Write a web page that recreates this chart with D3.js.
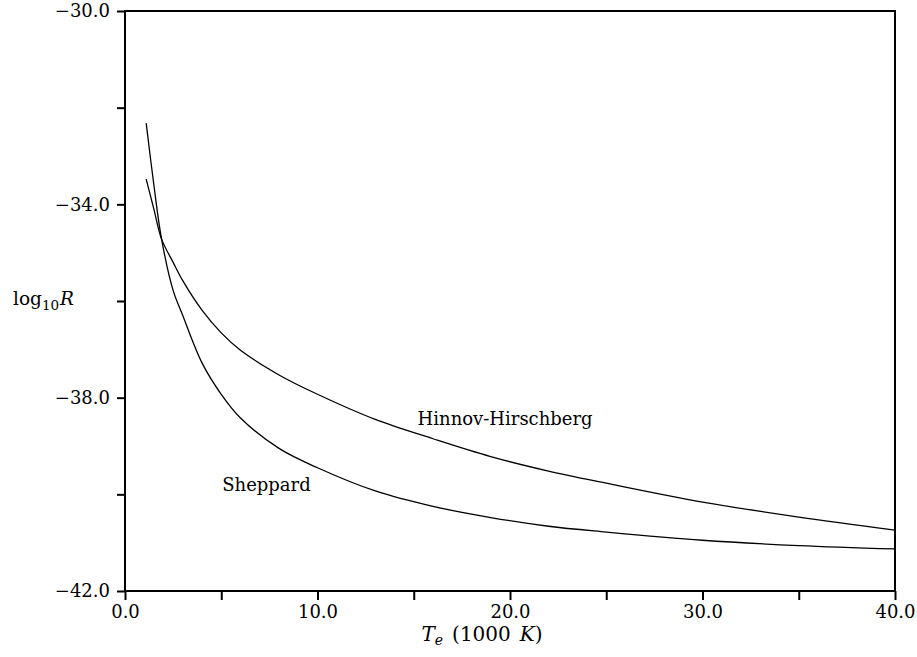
<!DOCTYPE html>
<html>
<head>
<meta charset="utf-8">
<script src="https://cdn.jsdelivr.net/npm/d3@7"></script>
<style>
  html, body { margin: 0; padding: 0; background: #fff; }
  svg text { font-family: "DejaVu Serif", "Liberation Serif", serif; fill: #000; }
</style>
</head>
<body>
<svg id="chart" width="917" height="657"></svg>
<script>
// ---- data ----
const temperature = [1.1, 1.5, 1.9, 2.5, 3, 4, 5, 6, 8, 10, 13, 16, 19, 22, 25, 30, 35, 40];
const hinnovHirschberg = [-33.48, -34.1, -34.72, -35.2, -35.58, -36.19, -36.66, -37.02, -37.53, -37.93, -38.45, -38.85, -39.22, -39.52, -39.77, -40.16, -40.47, -40.74];
const sheppard = [-32.32, -33.6, -34.72, -35.78, -36.3, -37.28, -37.93, -38.42, -39.05, -39.45, -39.93, -40.25, -40.48, -40.66, -40.78, -40.95, -41.06, -41.13];
const xTicks = [0, 5, 10, 15, 20, 25, 30, 35, 40];
const xTickLabels = ["0.0", "", "10.0", "", "20.0", "", "30.0", "", "40.0"];
const yTicks = [-30, -32, -34, -36, -38, -40, -42];
const yTickLabels = ["\u221230.0", "", "\u221234.0", "", "\u221238.0", "", "\u221242.0"];
const seriesNames = ["Hinnov-Hirschberg", "Sheppard"];

// ---- layout ----
const svg = d3.select("#chart");
const mLeft = 125, mRight = 895, mTop = 11, mBottom = 591;
const x = d3.scaleLinear().domain([0, 40]).range([mLeft, mRight]);
const y = d3.scaleLinear().domain([-42, -30]).range([mBottom, mTop]);

// axes
const xAxis = d3.axisBottom(x).tickValues(xTicks)
  .tickFormat((d, i) => xTickLabels[i]).tickSize(9).tickPadding(5);
const gx = svg.append("g").attr("transform", `translate(0,${mBottom})`).call(xAxis);
gx.select(".domain").remove();
gx.selectAll("line").attr("stroke", "#000").attr("stroke-width", 2);
gx.selectAll("text").attr("font-size", 18).attr("font-family", "DejaVu Serif");

const yAxis = d3.axisLeft(y).tickValues(yTicks)
  .tickFormat((d, i) => yTickLabels[i]).tickSize(8).tickPadding(7);
const gy = svg.append("g").attr("transform", `translate(${mLeft},0)`).call(yAxis);
gy.select(".domain").remove();
gy.selectAll("line").attr("stroke", "#000").attr("stroke-width", 2);
gy.selectAll("text").attr("font-size", 18).attr("font-family", "DejaVu Serif");

// frame
svg.append("rect")
  .attr("x", mLeft).attr("y", mTop)
  .attr("width", mRight - mLeft).attr("height", mBottom - mTop)
  .attr("fill", "none").attr("stroke", "#000").attr("stroke-width", 2);

// curves
const line = d3.line().x(d => x(d[0])).y(d => y(d[1])).curve(d3.curveCatmullRom.alpha(0.5));
[hinnovHirschberg, sheppard].forEach(vals => {
  svg.append("path")
    .datum(temperature.map((t, i) => [t, vals[i]]))
    .attr("d", line)
    .attr("fill", "none").attr("stroke", "#000").attr("stroke-width", 1.3);
});

// curve labels
svg.append("text").attr("x", x(15.2)).attr("y", y(-38.57))
  .attr("font-size", 18).text(seriesNames[0]);
svg.append("text").attr("x", x(5.05)).attr("y", y(-39.93))
  .attr("font-size", 18).text(seriesNames[1]);

// y axis label: log10 R
const yl = svg.append("text").attr("x", 13).attr("y", 305).attr("font-size", 18.5);
yl.append("tspan").text("log");
yl.append("tspan").attr("font-size", 13.5).attr("dy", 5).text("10");
yl.append("tspan").attr("font-style", "italic").attr("dy", -5).attr("dx", 1).text("R");

// x axis label: T_e (1000 K)
const xl = svg.append("text").attr("x", 482).attr("y", 641)
  .attr("text-anchor", "middle").attr("font-size", 20);
xl.append("tspan").attr("font-style", "italic").text("T");
xl.append("tspan").attr("font-style", "italic").attr("font-size", 14).attr("dy", 4).text("e");
xl.append("tspan").attr("dy", -4).attr("dx", 9).text("(1000");
xl.append("tspan").attr("font-style", "italic").attr("dx", 9).text("K");
xl.append("tspan").text(")");
</script>
</body>
</html>
